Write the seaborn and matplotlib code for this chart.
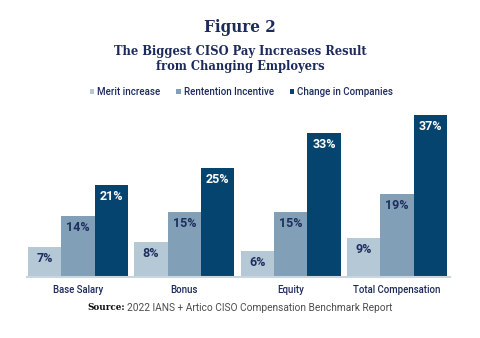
import matplotlib
matplotlib.use("Agg")
import matplotlib.pyplot as plt
import seaborn as sns
import pandas as pd
from matplotlib.patches import Patch

categories = ["Base Salary", "Bonus", "Equity", "Total Compensation"]
series = ["Merit increase", "Rentention Incentive", "Change in Companies"]
merit = [7, 8, 6, 9]
retention = [14, 15, 15, 19]
change = [21, 25, 33, 37]

colors = ["#b4c8d6", "#819fb7", "#05446f"]
label_colors = ["#1d2f5e", "#1d2f5e", "#ffffff"]
navy = "#1d2b5c"

rows = []
for s, vals in zip(series, [merit, retention, change]):
    for c, v in zip(categories, vals):
        rows.append({"cat": c, "series": s, "val": v})
df = pd.DataFrame(rows)

sns.set_theme(style="white")
plt.rcParams["font.family"] = ["Roboto", "DejaVu Sans"]

fig = plt.figure(figsize=(4.8, 3.38), dpi=100)
ax = fig.add_axes([0.056, 0.180, 0.882, 0.5176])

sns.barplot(data=df, x="cat", y="val", hue="series", palette=colors,
            width=0.94, saturation=1, linewidth=0, legend=False, ax=ax,
            errorbar=None)

for cont, lc in zip(ax.containers, label_colors):
    ax.bar_label(cont, labels=[f"{int(b.get_height())}%" for b in cont],
                 padding=-13, color=lc, fontsize=9, fontweight="bold",
                 fontfamily=["Roboto", "DejaVu Sans"])

ax.set_ylim(0, 40)
ax.set_xlim(-0.48, 3.5)
ax.set_xlabel("")
ax.set_ylabel("")
ax.set_yticks([])
for sp in ["top", "right", "left"]:
    ax.spines[sp].set_visible(False)
ax.spines["bottom"].set_color("#c9d5df")
ax.spines["bottom"].set_linewidth(1.5)
ax.tick_params(axis="x", length=0, pad=6, labelsize=6.9, labelcolor=navy)
for t in ax.get_xticklabels():
    t.set_fontweight("medium")

# Titles
fig.text(0.5, 0.92, "Figure 2", ha="center", va="center",
         fontsize=12.2, fontweight="bold", color=navy, fontfamily="DejaVu Serif",
         fontstretch="condensed")
fig.text(0.5, 0.826, "The Biggest CISO Pay Increases Result\nfrom Changing Employers",
         ha="center", va="center", fontsize=9.2, fontweight="bold", color=navy,
         fontfamily="DejaVu Serif", fontstretch="condensed", linespacing=1.25)

# Legend
handles = [Patch(facecolor=c, edgecolor="none") for c in colors]
leg = fig.legend(handles, series, loc="center", bbox_to_anchor=(0.503, 0.728), ncol=3,
                 frameon=False, fontsize=7, labelcolor=navy, handlelength=0.5,
                 handleheight=0.5, handletextpad=0.3, columnspacing=1.6)
for t in leg.get_texts():
    t.set_fontweight("medium")

# Source
fig.text(0.181, 0.09, "Source:", ha="left", va="center", fontsize=7,
         fontweight="bold", color="#111111", fontfamily="DejaVu Serif",
         fontstretch="condensed")
fig.text(0.264, 0.09, "2022 IANS + Artico CISO Compensation Benchmark Report",
         ha="left", va="center", fontsize=7.3, color="#4d4d4d",
         fontfamily="Roboto")

fig.savefig("out.png", dpi=100, facecolor="white")
